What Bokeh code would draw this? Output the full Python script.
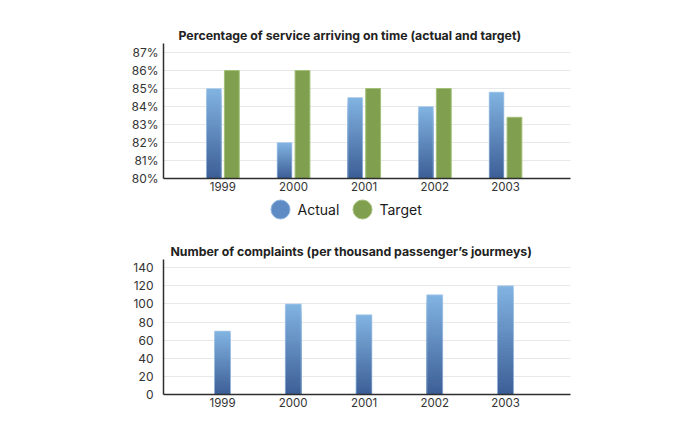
from bokeh.plotting import figure
from bokeh.layouts import column
from bokeh.models import Range1d, FixedTicker
from bokeh.core.properties import value
from bokeh.embed import file_html
from bokeh.resources import INLINE

# ---------------- data ----------------
years = ["1999", "2000", "2001", "2002", "2003"]
actual_pct = [85.0, 82.0, 84.5, 84.0, 84.8]
target_pct = [86.0, 86.0, 85.0, 85.0, 83.4]
pct_ticks = [80, 81, 82, 83, 84, 85, 86, 87]
pct_labels = ["80%", "81%", "82%", "83%", "84%", "85%", "86%", "87%"]
complaints = [70, 100, 88, 110, 120]
count_ticks = [0, 20, 40, 60, 80, 100, 120, 140]
count_labels = ["0", "20", "40", "60", "80", "100", "120", "140"]

title_top = "Percentage of service arriving on time (actual and target)"
title_bottom = "Number of complaints (per thousand passenger\u2019s jourmeys)"
legend_names = ["Actual", "Target"]

# ---------------- style ----------------
FONT = "Inter"
BLUE_TOP = (130, 180, 226)
BLUE_BOT = (60, 94, 150)
GREEN = "#80a04f"
TEXT = "#333333"
W = 700
LEFT = 163
FW = 407
RIGHT = W - LEFT - FW
N_SEG = 40


def lerp_color(c1, c2, t):
    return "#%02x%02x%02x" % tuple(int(round(a + (b - a) * t)) for a, b in zip(c1, c2))


def gradient_bars(p, centers, bottoms, tops, width):
    # nested quads from tallest (lightest) to shortest (darkest): seamless vertical gradient
    for i in reversed(range(N_SEG)):
        col = lerp_color(BLUE_BOT, BLUE_TOP, (i + 0.5) / N_SEG)
        p.quad(left=[c - width / 2 for c in centers], right=[c + width / 2 for c in centers],
               bottom=list(bottoms),
               top=[b + (t - b) * (i + 1) / N_SEG for b, t in zip(bottoms, tops)],
               fill_color=col, line_color=None)
    p.quad(left=[c - width / 2 for c in centers], right=[c + width / 2 for c in centers],
           bottom=list(bottoms), top=list(tops), fill_color=None,
           line_color="#b5d0ee", line_width=1, line_alpha=0.7)


def style(p, yticks, ylabels, title_offset, ystandoff):
    p.title.text_font = FONT
    p.title.text_font_size = "12.3px"
    p.title.text_font_style = "bold"
    p.title.text_color = "#222222"
    p.title.align = "left"
    p.title.offset = title_offset
    p.title.standoff = 2
    p.outline_line_color = None
    p.xgrid.grid_line_color = None
    p.ygrid.grid_line_color = "#e8e8e8"
    p.ygrid.grid_line_width = 1
    p.yaxis.ticker = FixedTicker(ticks=yticks)
    p.yaxis.major_label_overrides = {t: l for t, l in zip(yticks, ylabels)}
    p.xaxis.ticker = FixedTicker(ticks=list(range(len(years))))
    p.xaxis.major_label_overrides = {i: y for i, y in enumerate(years)}
    for ax in (p.xaxis, p.yaxis):
        ax.axis_line_color = "#2e2e2e"
        ax.axis_line_width = 1.5
        ax.major_tick_line_color = None
        ax.minor_tick_line_color = None
        ax.major_tick_out = 0
        ax.major_tick_in = 0
        ax.minor_tick_out = 0
        ax.minor_tick_in = 0
        ax.major_label_text_font = FONT
        ax.major_label_text_color = TEXT
    p.yaxis.major_label_text_font_size = "12px"
    p.xaxis.major_label_text_font_size = "11.5px"
    p.yaxis.major_label_standoff = ystandoff
    p.xaxis.major_label_standoff = 3


xs = list(range(len(years)))

# ---------------- top chart ----------------
p1 = figure(frame_width=FW, frame_height=135, output_backend="svg", toolbar_location=None,
            x_range=Range1d(-0.84, 4.92), y_range=Range1d(80, 87.5),
            title=title_top, min_border_left=LEFT, min_border_right=RIGHT,
            min_border_top=43, min_border_bottom=20)
style(p1, pct_ticks, pct_labels, 15, 5)
bw = 0.21
gradient_bars(p1, [x - 0.127 for x in xs], [80] * len(xs), actual_pct, bw)
p1.quad(left=[x + 0.127 - bw / 2 for x in xs], right=[x + 0.127 + bw / 2 for x in xs],
        bottom=[80] * len(xs), top=target_pct, fill_color=GREEN,
        line_color="#a3bf78", line_width=1)

# ---------------- legend strip ----------------
pl = figure(frame_width=FW, frame_height=22, output_backend="svg", toolbar_location=None,
            x_range=Range1d(163, 570), y_range=Range1d(0, 22),
            min_border_left=LEFT, min_border_right=RIGHT, min_border_top=0, min_border_bottom=0)
pl.axis.visible = False
pl.grid.visible = False
pl.outline_line_color = None
pl.scatter(x=[280, 362], y=[11, 11], size=19, marker="circle",
           fill_color=["#5f8bc4", GREEN], line_color=["#8fb5e0", "#a3bf78"], line_width=1)
pl.text(x=[297, 379], y=[11, 11], text=legend_names, text_font=value(FONT),
        text_font_size="14px", text_baseline="middle", text_color="#1a1a1a")

# ---------------- bottom chart ----------------
p2 = figure(frame_width=FW, frame_height=135, output_backend="svg", toolbar_location=None,
            x_range=Range1d(-0.834, 4.919), y_range=Range1d(0, 149),
            title=title_bottom, min_border_left=LEFT, min_border_right=RIGHT,
            min_border_top=39, min_border_bottom=20)
style(p2, count_ticks, count_labels, 7, 10)
gradient_bars(p2, xs, [0] * len(xs), complaints, 0.226)

layout = column(p1, pl, p2, spacing=0)
open("out.html", "w").write(file_html(layout, INLINE))
